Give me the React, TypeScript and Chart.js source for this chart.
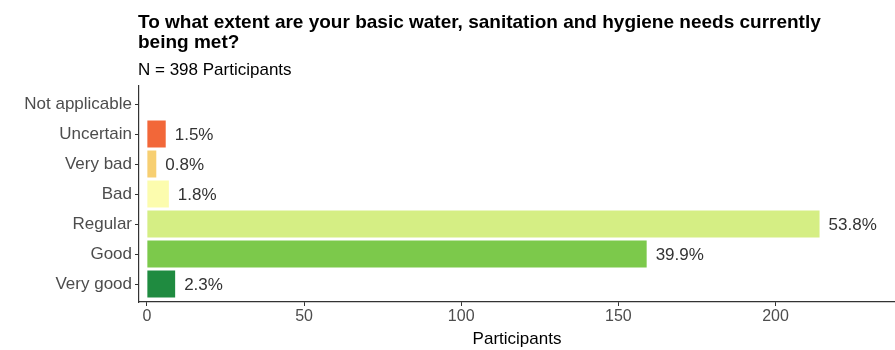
import React, { useEffect, useRef } from "react";
import { Chart, registerables } from "chart.js";

Chart.register(...registerables);

const categories = ["Not applicable", "Uncertain", "Very bad", "Bad", "Regular", "Good", "Very good"];
const participants = [0, 6, 3, 7, 214, 159, 9];
const barColors = ["#999999", "#F26739", "#F7CF72", "#FCFCAE", "#D5EE84", "#7CC94B", "#1F8B40"];
const xTicks = [0, 50, 100, 150, 200];
const total = 398;
const titleLines = ["To what extent are your basic water, sanitation and hygiene needs currently", "being met?"];
const subtitle = "N = 398 Participants";
const xTitle = "Participants";

const FONT = "'Liberation Sans', Arial, sans-serif";

export default function App() {
  const ref = useRef<HTMLCanvasElement | null>(null);

  useEffect(() => {
    document.body.style.margin = "0";
    const canvas = ref.current;
    if (!canvas) return;

    const textPlugin = {
      id: "texts",
      afterDatasetsDraw(chart: any) {
        const ctx = chart.ctx;
        const area = chart.chartArea;
        const xs = chart.scales.x;
        const ys = chart.scales.y;
        ctx.save();
        // bar labels
        ctx.font = `17px ${FONT}`;
        ctx.fillStyle = "#333333";
        ctx.textAlign = "left";
        ctx.textBaseline = "middle";
        participants.forEach((v, i) => {
          if (v <= 0) return;
          const pct = ((v / total) * 100).toFixed(1) + "%";
          ctx.fillText(pct, xs.getPixelForValue(v) + 9, ys.getPixelForValue(i + 1) + 1);
        });
        // titles
        ctx.fillStyle = "#000000";
        ctx.font = `bold 19px ${FONT}`;
        ctx.textBaseline = "alphabetic";
        titleLines.forEach((t, i) => ctx.fillText(t, area.left - 1, 28 + i * 20));
        ctx.font = `17px ${FONT}`;
        ctx.fillText(subtitle, area.left - 1, 75);
        ctx.restore();
      },
    };

    const chart = new Chart(canvas, {
      type: "bar",
      data: {
        datasets: [
          {
            data: participants.map((v, i) => ({ x: v, y: i + 1 })),
            backgroundColor: barColors,
            borderWidth: 0,
            barPercentage: 0.9,
            categoryPercentage: 1,
          },
        ],
      },
      options: {
        indexAxis: "y",
        animation: false,
        responsive: false,
        maintainAspectRatio: false,
        layout: { padding: { top: 86, left: 0, right: 0, bottom: 0 } },
        plugins: {
          legend: { display: false },
          tooltip: { enabled: false },
          title: { display: false },
        },
        scales: {
          x: {
            type: "linear",
            min: -2.5,
            max: 238,
            offset: false,
            afterBuildTicks: (scale: any) => {
              scale.ticks = xTicks.map((v) => ({ value: v }));
            },
            afterFit: (scale: any) => {
              scale.height = 48;
            },
            grid: { offset: false, drawOnChartArea: false, drawTicks: true, tickLength: 4, tickColor: "#333333", tickWidth: 1 },
            border: { display: true, color: "#333333", width: 1.2 },
            ticks: { color: "#4D4D4D", font: { size: 16, family: FONT }, padding: 1 },
            title: { display: true, text: xTitle, color: "#000000", font: { size: 17, family: FONT }, padding: { top: 0, bottom: 0 } },
          },
          y: {
            type: "linear",
            reverse: true,
            min: 0.4,
            max: 7.6,
            offset: false,
            afterBuildTicks: (scale: any) => {
              scale.ticks = categories.map((_, i) => ({ value: i + 1 }));
            },
            afterFit: (scale: any) => {
              scale.width = 139;
            },
            grid: { offset: false, drawOnChartArea: false, drawTicks: true, tickLength: 4, tickColor: "#333333", tickWidth: 1 },
            border: { display: true, color: "#333333", width: 1.2 },
            ticks: {
              color: "#4D4D4D",
              font: { size: 17, family: FONT },
              padding: 3,
              autoSkip: false,
              callback: (v: any) => categories[Math.round(Number(v)) - 1] ?? "",
            },
          },
        },
      } as any,
      plugins: [textPlugin],
    });

    return () => chart.destroy();
  }, []);

  return (
    <div style={{ width: 895, height: 350 }}>
      <canvas ref={ref} width={895} height={350} style={{ display: "block" }} />
    </div>
  );
}
